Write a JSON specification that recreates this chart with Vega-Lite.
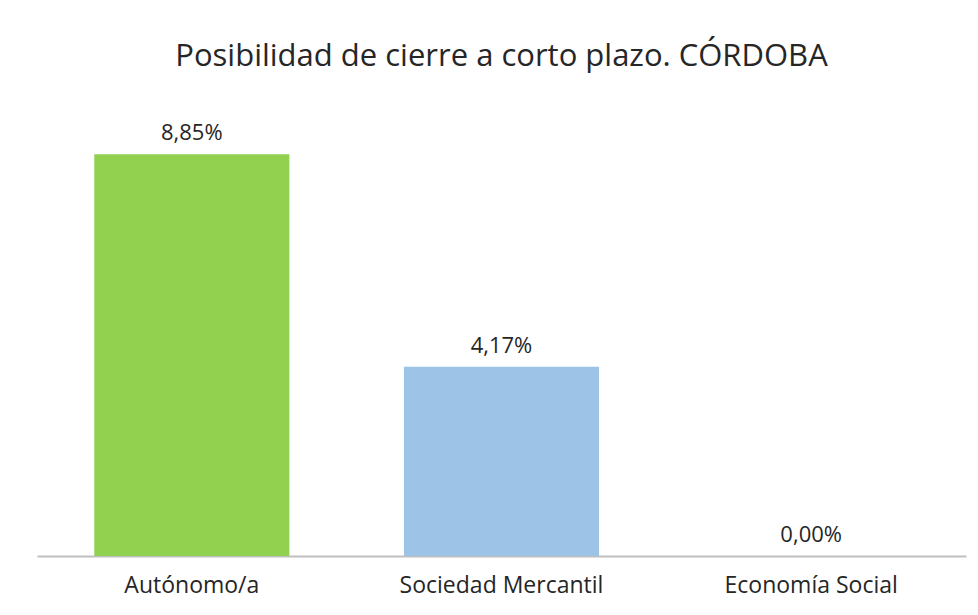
{
  "$schema": "https://vega.github.io/schema/vega-lite/v6.json",
  "autosize": "none",
  "width": 929,
  "height": 454,
  "padding": {"left": 37, "top": 102, "right": 12, "bottom": 59},
  "background": "white",
  "title": {
    "text": "Posibilidad de cierre a corto plazo. CÓRDOBA",
    "font": "Open Sans",
    "fontSize": 31,
    "fontWeight": "normal",
    "color": "#262626",
    "anchor": "middle",
    "baseline": "alphabetic",
    "offset": 5
  },
  "data": {
    "values": [
      {"categoria": "Autónomo/a", "valor": 8.85, "etiqueta": "8,85%"},
      {"categoria": "Sociedad Mercantil", "valor": 4.17, "etiqueta": "4,17%"},
      {"categoria": "Economía Social", "valor": 0.0, "etiqueta": "0,00%"}
    ]
  },
  "encoding": {
    "x": {
      "field": "categoria",
      "type": "nominal",
      "sort": null,
      "scale": {"paddingInner": 0.37, "paddingOuter": 0.185},
      "axis": {
        "title": null,
        "labelAngle": 0,
        "ticks": false,
        "domainColor": "#bfbfbf",
        "domainWidth": 2,
        "labelFont": "Open Sans",
        "labelFontSize": 23,
        "labelColor": "#262626",
        "labelPadding": 18,
        "labelLimit": 0
      }
    },
    "y": {
      "field": "valor",
      "type": "quantitative",
      "scale": {"domain": [0, 10], "nice": false},
      "axis": null
    }
  },
  "layer": [
    {
      "mark": {"type": "bar"},
      "encoding": {
        "color": {
          "field": "categoria",
          "type": "nominal",
          "scale": {
            "domain": ["Autónomo/a", "Sociedad Mercantil", "Economía Social"],
            "range": ["#92d050", "#9dc3e6", "#c0c0c0"]
          },
          "legend": null
        }
      }
    },
    {
      "mark": {
        "type": "text",
        "font": "Open Sans",
        "fontSize": 22,
        "color": "#262626",
        "baseline": "alphabetic",
        "dy": -14
      },
      "encoding": {"text": {"field": "etiqueta"}}
    }
  ],
  "config": {"view": {"stroke": null}}
}
